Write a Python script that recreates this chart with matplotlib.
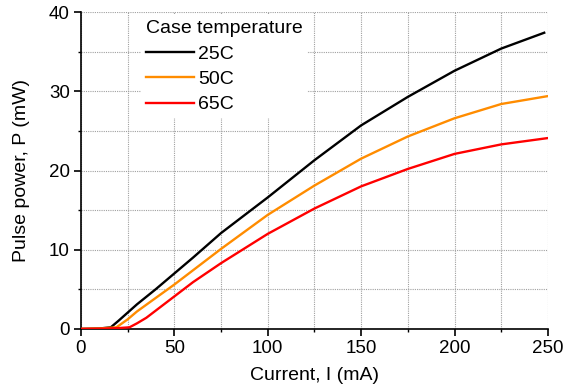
import matplotlib
matplotlib.use("Agg")
import matplotlib.pyplot as plt
from matplotlib.ticker import MultipleLocator

plt.rcParams['font.family'] = ['Liberation Sans', 'DejaVu Sans']

# Data
i_25 = [0, 10, 16, 20, 30, 40, 50, 60, 75, 100, 125, 150, 175, 200, 225, 248]
p_25 = [0, 0.05, 0.2, 1.0, 3.1, 5.0, 7.0, 9.0, 12.1, 16.6, 21.3, 25.7, 29.3, 32.6, 35.4, 37.4]

i_50 = [0, 10, 19, 25, 30, 40, 50, 60, 75, 100, 125, 150, 175, 200, 225, 250]
p_50 = [0, 0.05, 0.2, 1.2, 2.2, 3.9, 5.6, 7.4, 10.1, 14.4, 18.1, 21.5, 24.3, 26.6, 28.4, 29.4]

i_65 = [0, 10, 20, 26, 30, 35, 40, 50, 60, 75, 100, 125, 150, 175, 200, 225, 250]
p_65 = [0, 0.02, 0.1, 0.2, 0.7, 1.4, 2.3, 4.1, 5.9, 8.3, 12.0, 15.2, 18.0, 20.2, 22.1, 23.3, 24.1]

labels = ["25C", "50C", "65C"]
colors = ["#000000", "#ff8c00", "#ff0000"]
x_ticks = [0, 50, 100, 150, 200, 250]
y_ticks = [0, 10, 20, 30, 40]

fig = plt.figure(figsize=(5.78, 3.92), dpi=100)
ax = fig.add_axes([0.140, 0.161, 0.808, 0.808])

for xs, ys, lab, c in zip([i_25, i_50, i_65], [p_25, p_50, p_65], labels, colors):
    ax.plot(xs, ys, color=c, lw=1.7, label=lab, zorder=3)

ax.set_xlim(0, 250)
ax.set_ylim(0, 40)
ax.set_xticks(x_ticks)
ax.set_yticks(y_ticks)
ax.xaxis.set_minor_locator(MultipleLocator(25))
ax.yaxis.set_minor_locator(MultipleLocator(5))
ax.tick_params(which='major', direction='out', length=5, width=1.2, labelsize=13.5, pad=3)
ax.tick_params(which='minor', direction='out', length=2.5, width=1.0)
for s in ['top', 'right']:
    ax.spines[s].set_visible(False)
for s in ['left', 'bottom']:
    ax.spines[s].set_linewidth(1.2)

ax.grid(True, which='both', color='#a0a0a0', linestyle=(0, (1, 1)), linewidth=0.8, zorder=1)
ax.set_axisbelow(True)

ax.set_xlabel("Current, I (mA)", fontsize=14)
ax.set_ylabel("Pulse power, P (mW)", fontsize=14)
ax.xaxis.set_label_coords(0.5, -0.120)
ax.yaxis.set_label_coords(-0.108, 0.5)

leg = ax.legend(title="Case temperature", loc='upper left', bbox_to_anchor=(0.128, 0.99),
                frameon=True, fancybox=False, fontsize=14, title_fontsize=14,
                handlelength=2.5, handletextpad=0.2, labelspacing=0.4,
                borderpad=0.25, borderaxespad=0.0)
leg._legend_box.align = "left"
leg.get_frame().set_facecolor('white')
leg.get_frame().set_edgecolor('none')
leg.get_frame().set_alpha(1.0)
leg.set_zorder(2)

fig.savefig("out.png", dpi=100)
